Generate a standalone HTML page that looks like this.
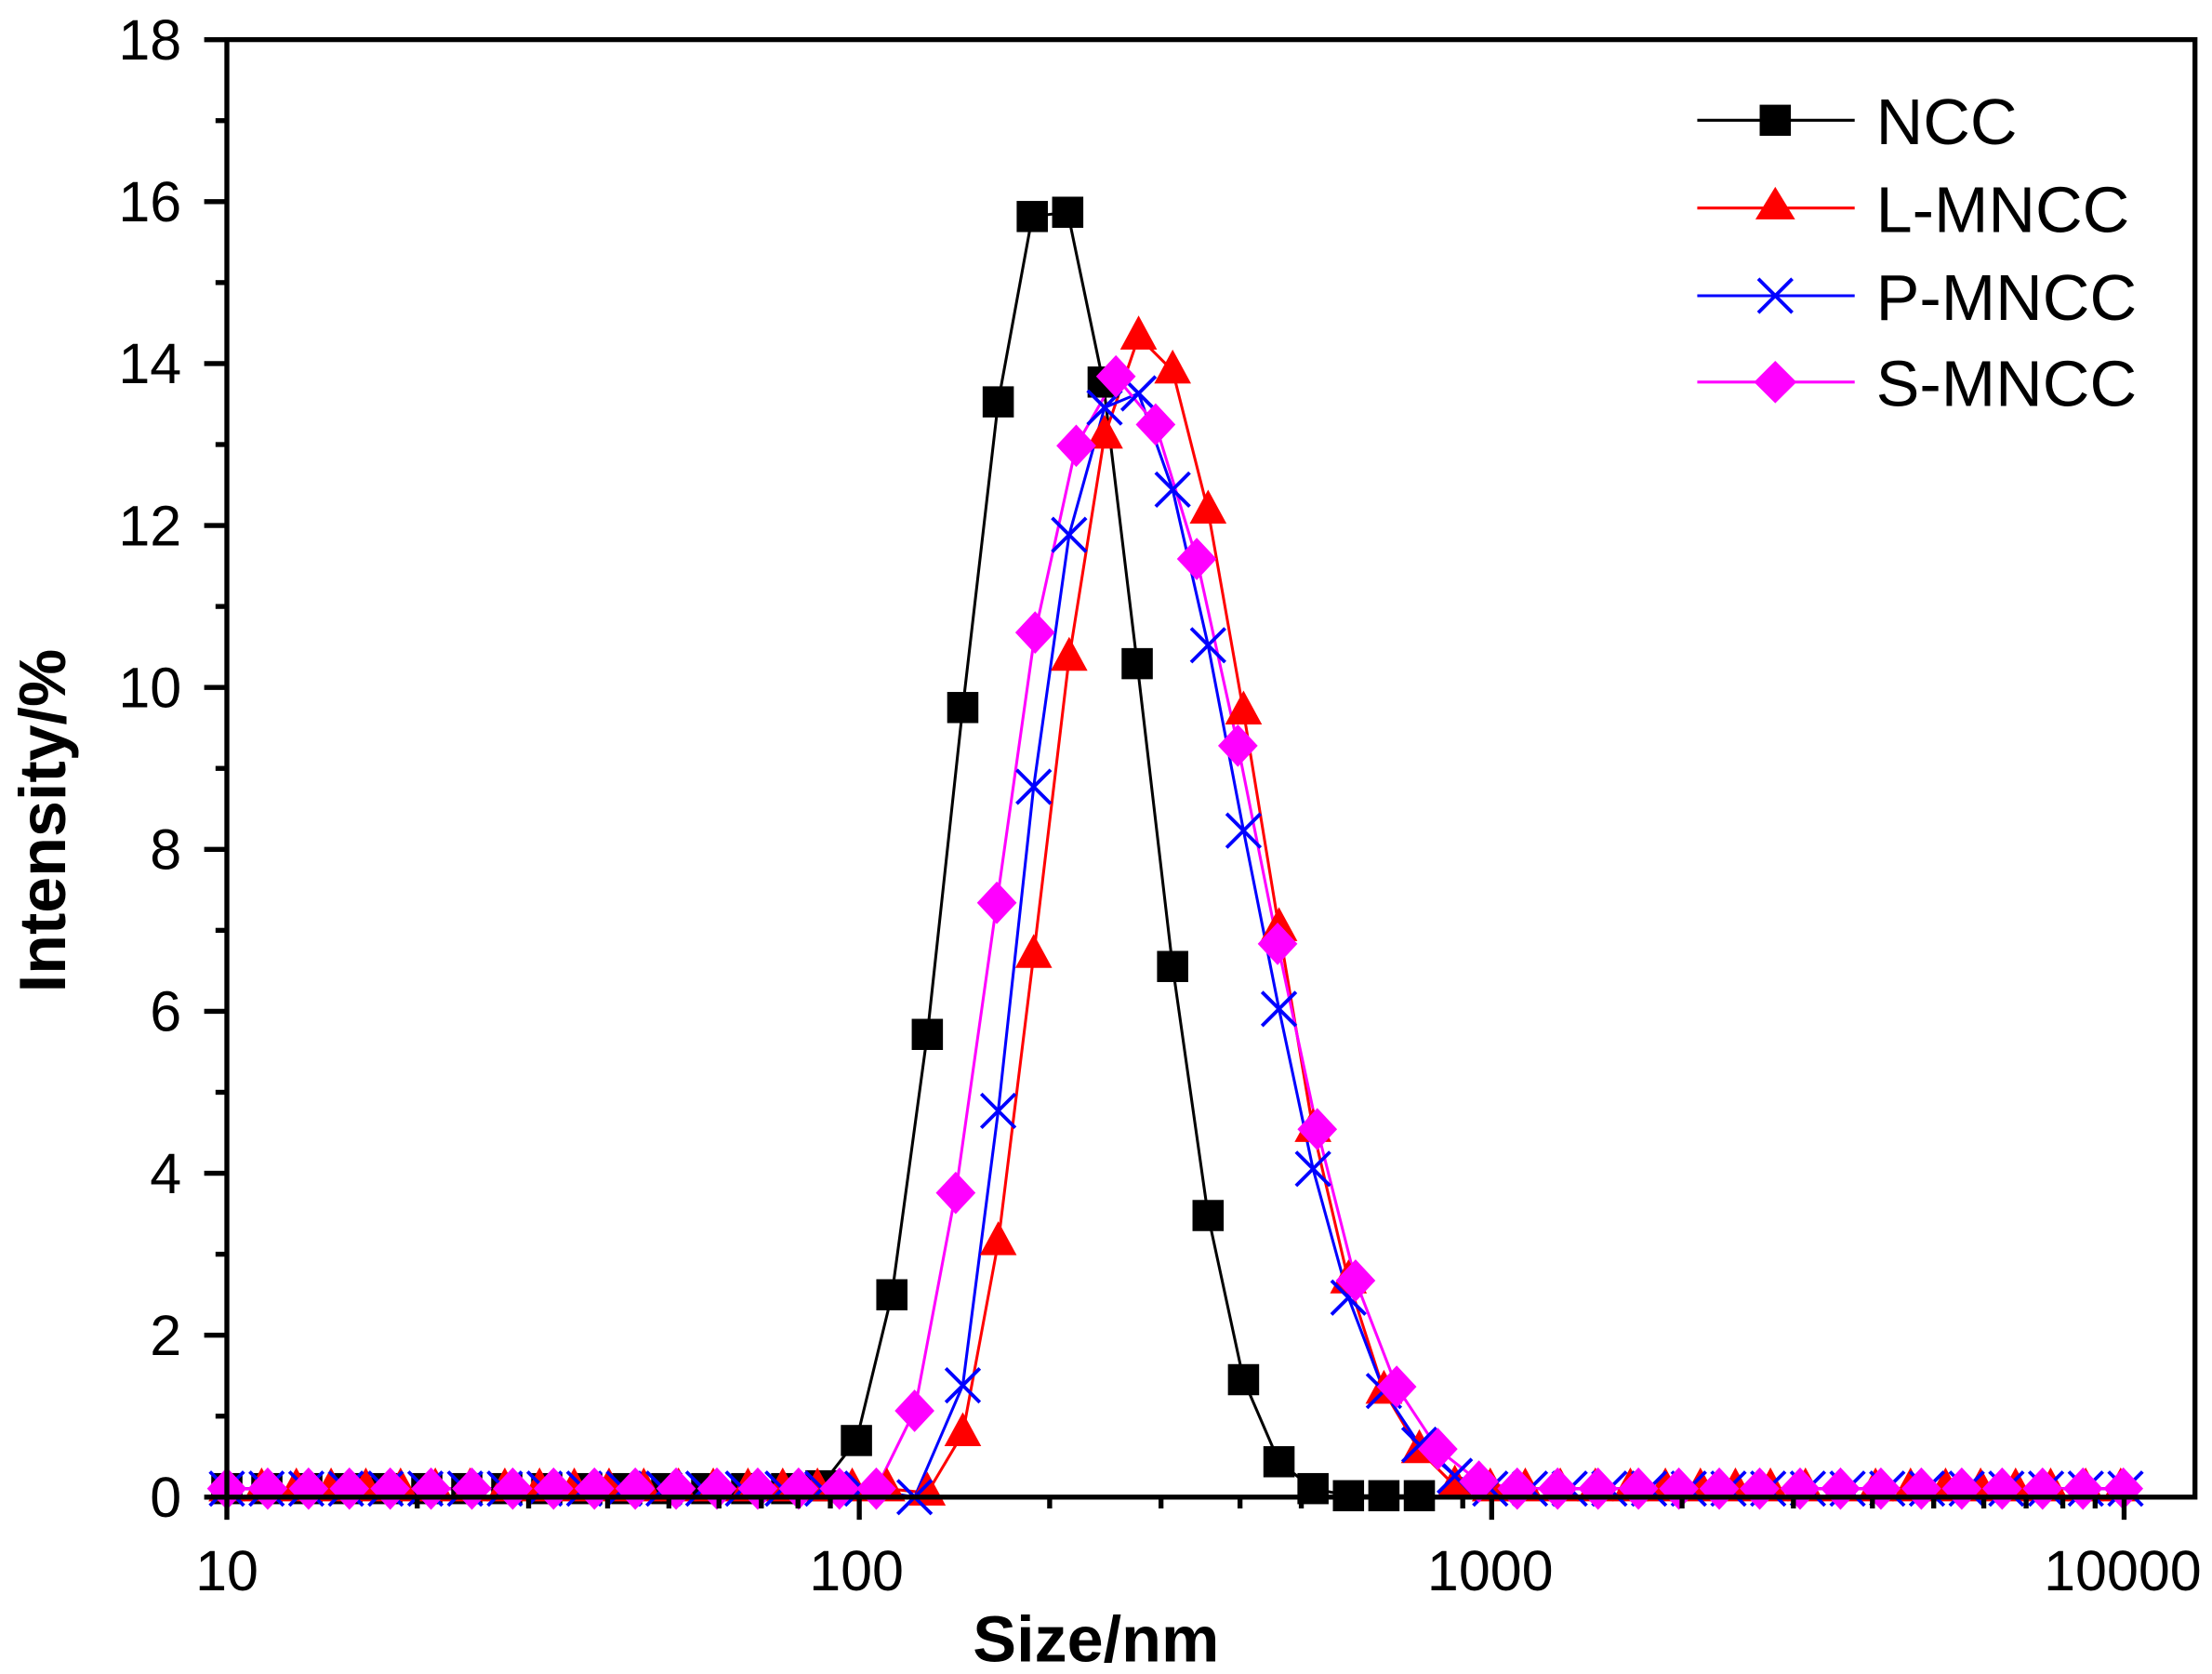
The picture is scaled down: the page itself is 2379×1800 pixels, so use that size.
<!DOCTYPE html>
<html><head><meta charset="utf-8"><style>html,body{margin:0;padding:0;background:#fff}svg{display:block}</style></head>
<body>
<svg id="s" width="2379" height="1800" viewBox="0 0 1560 1183" preserveAspectRatio="none" xmlns="http://www.w3.org/2000/svg" font-family="Liberation Sans, sans-serif">
<g id="plot"></g>
<rect x="160" y="28" width="1388" height="1030" fill="none" stroke="#000" stroke-width="3.5"/>
<g id="ticks" stroke="#000" stroke-width="3.5"></g>
<g font-size="40" text-anchor="end" id="yl"></g>
<g font-size="40" text-anchor="middle">
<text x="160" y="1124">10</text><text x="604" y="1124">100</text><text x="1051" y="1124">1000</text><text x="1497" y="1124">10000</text>
</g>
<text x="773" y="1174" font-size="46" font-weight="bold" text-anchor="middle">Size/nm</text>
<text transform="translate(46,580) rotate(-90)" font-size="46" font-weight="bold" text-anchor="middle">Intensity/%</text>
<g font-size="46">
<line x1="1197" y1="85" x2="1308" y2="85" stroke="#000" stroke-width="2"/><rect x="1241" y1="0" y="74" width="22" height="22" fill="#000"/><text x="1323" y="102">NCC</text>
<line x1="1197" y1="147" x2="1308" y2="147" stroke="red" stroke-width="2"/><polygon points="1252,132 1266,155 1238,155" fill="red"/><text x="1323" y="164">L-MNCC</text>
<line x1="1197" y1="209" x2="1308" y2="209" stroke="blue" stroke-width="2"/><path d="M1240,197 L1264,221 M1240,221 L1264,197" stroke="blue" stroke-width="2.5"/><text x="1323" y="226">P-MNCC</text>
<line x1="1197" y1="270" x2="1308" y2="270" stroke="#f0f" stroke-width="2"/><polygon points="1252,255 1267,270 1252,285 1237,270" fill="#f0f"/><text x="1323" y="287">S-MNCC</text>
</g>
</svg>
<script>
var NS="http://www.w3.org/2000/svg";
function el(p,t,a){var e=document.createElementNS(NS,t);for(var k in a)e.setAttribute(k,a[k]);p.appendChild(e);return e;}
var tk=document.getElementById('ticks'),yl=document.getElementById('yl');
for(var v=0;v<=18;v++){var y=1058-v*57.22;el(tk,'line',{x1:v%2?152:144,x2:160,y1:y,y2:y});if(v%2==0){var t=el(yl,'text',{x:128,y:y+14});t.textContent=v;}}
for(var d=1;d<=4;d++)for(var m=1;m<10;m++){var x=160+(d-1+Math.log10(m))*446;if(x>1548)break;el(tk,'line',{x1:x,x2:x,y1:1058,y2:m==1?1074:1066});}
var plot=document.getElementById('plot');
function base(x0,x1,step,y){var r=[];for(var x=x0;x<=x1;x+=step)r.push([x,y]);return r;}
var ncc=base(160,560,28.2,1052).concat([[579,1050],[604,1018],[629,915],[654,731],[679,500],[704,284],[728,153],[753,150],[778,270],[802,469],[827,683],[852,859],[877,975],[902,1033],[926,1052],[951,1057],[976,1057],[1001,1057]]);
var l=base(160,630,24.5,1052).concat([[654,1055],[679,1013],[704,878],[729,675],[754,465],[779,308],[803,238],[827,262],[852,361],[877,503],[902,656],[926,798],[951,905],[976,983],[1001,1025],[1026,1050]]).concat(base(1051,1520,24.7,1052));
var p=base(160,620,28,1052).concat([[645,1058],[679,979],[704,785],[729,556],[754,378],[779,288],[803,278],[827,346],[852,456],[877,587],[902,713],[926,826],[951,917],[976,983],[1001,1021],[1026,1043]]).concat(base(1051,1520,28,1052));
var s=base(160,592,28.8,1052).concat([[618,1052],[645,997],[674,843],[703,638],[730,447],[759,315],[787,266],[815,300],[844,395],[873,527],[901,667],[929,798],[956,905],[985,980],[1014,1024],[1043,1047]]).concat(base(1070,1520,28.5,1052));
function line(d,c){el(plot,'polyline',{points:d.map(function(q){return q.join(',')}).join(' '),fill:'none',stroke:c,'stroke-width':2});}
line(ncc,'#000');line(l,'red');line(p,'blue');line(s,'#f0f');
ncc.forEach(function(q){el(plot,'rect',{x:q[0]-11,y:q[1]-11,width:22,height:22,fill:'#000'});});
l.forEach(function(q){el(plot,'polygon',{points:(q[0])+','+(q[1]-15)+' '+(q[0]+13)+','+(q[1]+9)+' '+(q[0]-13)+','+(q[1]+9),fill:'red'});});
p.forEach(function(q){el(plot,'path',{d:'M'+(q[0]-12)+','+(q[1]-12)+'L'+(q[0]+12)+','+(q[1]+12)+'M'+(q[0]-12)+','+(q[1]+12)+'L'+(q[0]+12)+','+(q[1]-12),stroke:'blue','stroke-width':2.5});});
s.forEach(function(q){el(plot,'polygon',{points:q[0]+','+(q[1]-15)+' '+(q[0]+14)+','+q[1]+' '+q[0]+','+(q[1]+15)+' '+(q[0]-14)+','+q[1],fill:'#f0f'});});
</script>
</body></html>
